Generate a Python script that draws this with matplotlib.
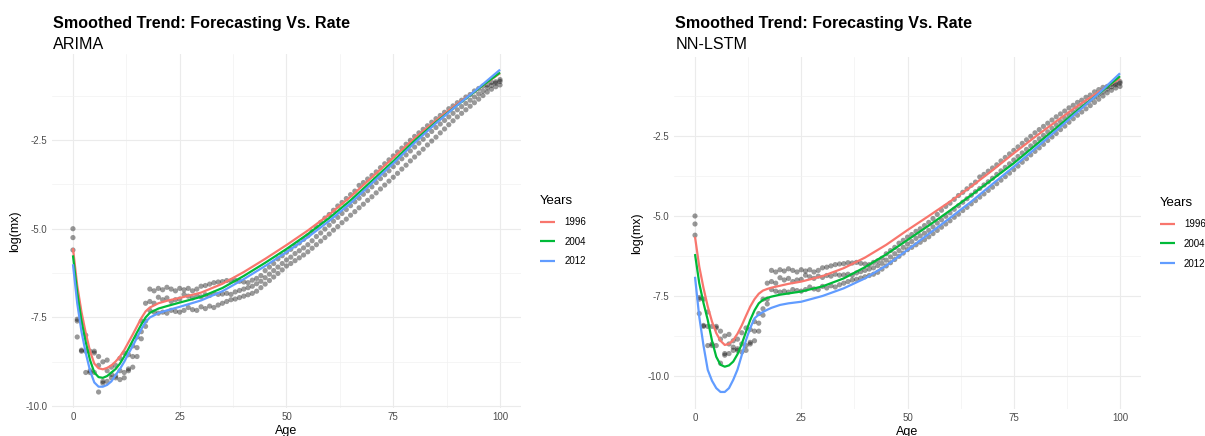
import numpy as np
import matplotlib
matplotlib.use("Agg")
import matplotlib.pyplot as plt

plt.rcParams["font.family"] = ["Liberation Sans", "DejaVu Sans"]

# ----------------------------------------------------------------------
# observed log death rates, ages 0..100, one list per year
# ----------------------------------------------------------------------
ages = list(range(0, 101))

obs_1996 = [
    -5.00, -7.55, -7.60, -8.00, -8.45, -8.45, -8.60, -8.75, -8.70, -8.90,
    -8.85, -8.65, -8.50, -8.55, -8.30, -8.05, -7.60, -7.10, -6.70, -6.75,
    -6.68, -6.72, -6.65, -6.70, -6.75, -6.68, -6.72, -6.68, -6.75, -6.70,
    -6.62, -6.60, -6.56, -6.52, -6.50, -6.49, -6.46, -6.47, -6.45, -6.48,
    -6.50, -6.52, -6.45, -6.40, -6.32, -6.18, -6.08, -5.98, -5.85, -5.76,
    -5.66, -5.58, -5.48, -5.40, -5.30, -5.20, -5.08, -4.95, -4.82, -4.70,
    -4.60, -4.48, -4.36, -4.26, -4.15, -4.04, -3.94, -3.78, -3.70, -3.60,
    -3.50, -3.40, -3.28, -3.17, -3.06, -2.95, -2.84, -2.73, -2.62, -2.51,
    -2.40, -2.30, -2.20, -2.10, -2.00, -1.90, -1.81, -1.72, -1.62, -1.54,
    -1.45, -1.38, -1.29, -1.22, -1.12, -1.05, -0.98, -0.95, -0.88, -0.86,
    -0.80,
]
obs_2004 = [
    -5.25, -8.05, -8.42, -8.45, -9.05, -8.50, -8.85, -9.30, -9.00, -9.10,
    -9.20, -9.00, -9.05, -8.95, -8.60, -8.35, -7.90, -7.60, -7.05, -7.10,
    -6.93, -7.00, -6.95, -7.05, -7.00, -6.98, -6.85, -6.90, -6.95, -6.88,
    -6.92, -6.86, -6.88, -6.82, -6.85, -6.84, -6.82, -6.85, -6.78, -6.74,
    -6.70, -6.66, -6.62, -6.55, -6.48, -6.38, -6.28, -6.18, -6.08, -5.98,
    -5.88, -5.80, -5.70, -5.62, -5.54, -5.45, -5.34, -5.22, -5.12, -5.01,
    -4.90, -4.79, -4.68, -4.57, -4.46, -4.35, -4.24, -4.14, -4.03, -3.93,
    -3.82, -3.70, -3.59, -3.48, -3.37, -3.25, -3.14, -3.03, -2.92, -2.81,
    -2.70, -2.59, -2.48, -2.37, -2.26, -2.15, -2.05, -1.95, -1.85, -1.75,
    -1.65, -1.56, -1.47, -1.38, -1.29, -1.20, -1.12, -1.03, -0.96, -0.90,
    -0.85,
]
obs_2012 = [
    -5.60, -7.60, -8.45, -9.05, -9.00, -9.05, -9.60, -9.35, -9.30, -9.20,
    -9.15, -9.25, -9.20, -9.00, -8.90, -8.60, -8.10, -7.75, -7.30, -7.35,
    -7.38, -7.35, -7.38, -7.30, -7.33, -7.35, -7.30, -7.22, -7.28, -7.30,
    -7.20, -7.25, -7.18, -7.22, -7.15, -7.10, -7.05, -7.00, -6.98, -6.94,
    -6.90, -6.86, -6.82, -6.76, -6.66, -6.56, -6.46, -6.36, -6.26, -6.16,
    -6.05, -5.98, -5.90, -5.82, -5.74, -5.65, -5.55, -5.45, -5.35, -5.25,
    -5.15, -5.04, -4.94, -4.83, -4.73, -4.62, -4.52, -4.41, -4.31, -4.20,
    -4.10, -3.99, -3.88, -3.77, -3.66, -3.55, -3.44, -3.32, -3.21, -3.09,
    -2.98, -2.87, -2.76, -2.64, -2.53, -2.42, -2.30, -2.19, -2.07, -1.96,
    -1.85, -1.75, -1.65, -1.55, -1.45, -1.35, -1.25, -1.15, -1.07, -1.00,
    -0.95,
]

# ----------------------------------------------------------------------
# smoothed forecast trends
# ----------------------------------------------------------------------
trend_ages = [0, 1, 2, 3, 4, 5, 6, 7, 8, 9, 10, 11, 12, 13, 14, 15, 16, 17,
              18, 20, 22, 25, 30, 35, 40, 45, 50, 55, 60, 65, 70, 75, 80,
              85, 90, 95, 100]

arima_1996 = [-5.55, -6.60, -7.35, -7.94, -8.45, -8.80, -8.93, -8.96, -8.92,
              -8.85, -8.74, -8.60, -8.42, -8.20, -7.98, -7.75, -7.52, -7.33,
              -7.22, -7.10, -7.03, -6.95, -6.80, -6.55, -6.22, -5.85, -5.46,
              -5.05, -4.60, -4.10, -3.55, -3.00, -2.45, -1.95, -1.48, -1.05,
              -0.62]
arima_2004 = [-5.75, -6.80, -7.60, -8.20, -8.70, -9.05, -9.18, -9.20, -9.15,
              -9.05, -8.95, -8.80, -8.60, -8.38, -8.15, -7.92, -7.70, -7.50,
              -7.37, -7.25, -7.18, -7.08, -6.92, -6.67, -6.33, -5.96, -5.57,
              -5.15, -4.70, -4.20, -3.65, -3.10, -2.52, -2.00, -1.52, -1.05,
              -0.60]
arima_2012 = [-6.00, -7.10, -7.90, -8.50, -9.00, -9.33, -9.45, -9.45, -9.40,
              -9.30, -9.12, -8.95, -8.75, -8.52, -8.30, -8.07, -7.83, -7.63,
              -7.50, -7.38, -7.30, -7.20, -7.02, -6.76, -6.42, -6.05, -5.66,
              -5.24, -4.78, -4.28, -3.72, -3.16, -2.58, -2.03, -1.52, -1.03,
              -0.52]

lstm_1996 = [-5.65, -6.58, -7.25, -7.83, -8.30, -8.66, -8.90, -9.03, -9.00,
             -8.88, -8.68, -8.42, -8.12, -7.83, -7.60, -7.43, -7.33, -7.28,
             -7.24, -7.18, -7.12, -7.05, -6.88, -6.63, -6.30, -5.90, -5.44,
             -5.00, -4.55, -4.08, -3.57, -3.04, -2.53, -2.04, -1.56, -1.12,
             -0.70]
lstm_2004 = [-6.19, -7.10, -7.72, -8.25, -8.90, -9.40, -9.65, -9.71, -9.67,
             -9.55, -9.32, -9.00, -8.62, -8.25, -7.95, -7.73, -7.62, -7.56,
             -7.52, -7.46, -7.42, -7.36, -7.20, -6.95, -6.60, -6.20, -5.75,
             -5.30, -4.83, -4.35, -3.85, -3.35, -2.80, -2.25, -1.70, -1.18,
             -0.63]
lstm_2012 = [-6.90, -8.15, -9.05, -9.81, -10.15, -10.38, -10.50, -10.50,
             -10.38, -10.12, -9.80, -9.35, -8.88, -8.50, -8.20, -8.08, -8.00,
             -7.93, -7.87, -7.78, -7.73, -7.68, -7.50, -7.26, -6.95, -6.55,
             -6.06, -5.56, -5.06, -4.55, -4.00, -3.46, -2.90, -2.33, -1.75,
             -1.17, -0.54]

years = ["1996", "2004", "2012"]
year_colors = ["#F8766D", "#00BA38", "#619CFF"]

# name, trend curves, y range, panel box in pixels (left, top, right, bottom)
panels = [
    ("ARIMA", [arima_1996, arima_2004, arima_2012], (-10.05, -0.07),
     [51.6, 53.7, 521.4, 408.0]),
    ("NN-LSTM", [lstm_1996, lstm_2004, lstm_2012], (-11.02, -0.04),
     [673.75, 57.3, 1141.25, 408.6]),
]

W, H = 1205, 436
fig = plt.figure(figsize=(W / 100, H / 100), dpi=100)

obs_all = [obs_1996, obs_2004, obs_2012]

for name, trends, ylim, (x0, y0, x1, y1) in panels:
    ax = fig.add_axes([x0 / W, 1 - y1 / H, (x1 - x0) / W, (y1 - y0) / H])

    for obs in obs_all:
        ax.scatter(ages, obs, s=14, color="black", alpha=0.4,
                   edgecolors="none", zorder=2)
    for tr, yr, col in zip(trends, years, year_colors):
        ax.plot(trend_ages, tr, color=col, linewidth=1.6, label=yr,
                solid_capstyle="butt", zorder=3)

    ax.set_xticks([0, 25, 50, 75, 100])
    ax.set_xticks([12.5, 37.5, 62.5, 87.5], minor=True)
    ax.set_yticks([-10.0, -7.5, -5.0, -2.5])
    ax.set_yticks([-8.75, -6.25, -3.75, -1.25], minor=True)
    ax.set_yticklabels(["-10.0", "-7.5", "-5.0", "-2.5"])
    ax.set_xlim(-5, 105)
    ax.set_ylim(*ylim)
    ax.grid(which="major", color="#EBEBEB", linewidth=0.8, zorder=0)
    ax.grid(which="minor", color="#F2F2F2", linewidth=0.5, zorder=0)
    ax.set_axisbelow(True)
    for sp in ax.spines.values():
        sp.set_visible(False)
    ax.tick_params(which="both", length=0, labelsize=7, labelcolor="#4D4D4D",
                   pad=3)
    ax.set_xlabel("Age", fontsize=9, labelpad=2)
    ax.set_ylabel("log(mx)", fontsize=9, labelpad=3)

    fig.text((x0 + 1.5) / W, 1 - 28 / H, "Smoothed Trend: Forecasting Vs. Rate",
             fontsize=11.6, fontweight="bold", va="baseline")
    fig.text((x0 + 1.5) / W, 1 - 49 / H, name, fontsize=11.6, va="baseline")

    leg = ax.legend(title="Years", loc="center left", bbox_to_anchor=(1.0, 0.5),
                    frameon=False, fontsize=7, title_fontsize=9.5,
                    handlelength=1.6, handletextpad=0.9, labelspacing=1.0,
                    borderaxespad=1.5)
    leg._legend_box.align = "left"

fig.savefig("out.png", dpi=100)
